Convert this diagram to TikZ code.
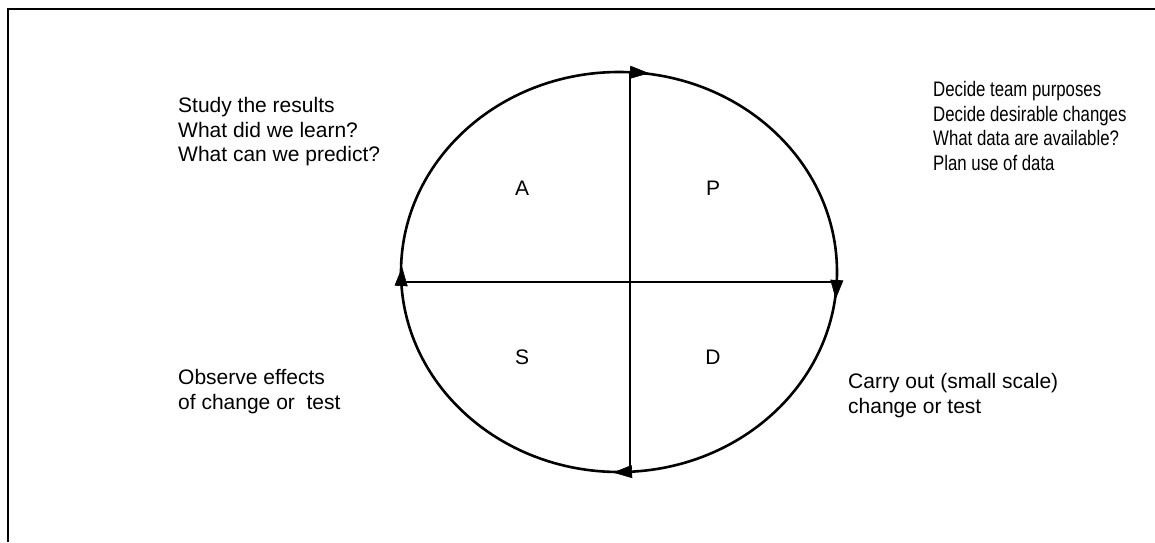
\documentclass[tikz,border=0pt]{standalone}
\usepackage{fontspec}
\setmainfont{Liberation Sans}
\usetikzlibrary{arrows.meta}

\begin{document}
\begin{tikzpicture}[x=1pt,y=1pt,
  txt/.style={anchor=north west,inner sep=0pt,align=left,font=\fontsize{21}{24.7}\selectfont},
  quad/.style={inner sep=0pt,font=\fontsize{21}{25}\selectfont},
  cyc/.style={line width=2.6pt},
  tip/.style={-{Triangle[length=19pt,width=13pt]},line width=0.6pt}]
\useasboundingbox (0,0) rectangle (1155,542);
\draw[line width=2.5pt] (8,0) -- (8,533) -- (1155,533);

\coordinate (top) at (630,469.7);
\coordinate (bottom) at (630,70.3);
\coordinate (left) at (401.3,260);
\coordinate (right) at (836.7,260);

\draw[cyc] (619,270) ellipse (218 and 200);
\draw[cyc] (top) -- (bottom);
\draw[cyc] (left) -- (right);

% clockwise arrows
\draw[tip] (top) -- ++(19,-0.9);
\draw[tip] (right) -- ++(-1,-17);
\draw[tip] (bottom) -- ++(-17,-0.8);
\draw[tip] (left) -- ++(0.8,15);

\node[quad] (act) at (522,354) {A};
\node[quad] (plan) at (713,354) {P};
\node[quad] (study) at (522,185) {S};
\node[quad] (do) at (713,185) {D};

\node[txt] (studytxt) at (178,445) {Study the results\\What did we learn?\\What can we predict?};
\node[txt,transform shape,xscale=0.8] (plantxt) at (933,461) {Decide team purposes\\Decide desirable changes\\What data are available?\\Plan use of data};
\node[txt] (observetxt) at (178,173) {Observe effects\\of change or\ \ test};
\node[txt] (carrytxt) at (848,169) {Carry out (small scale)\\change or test};
\end{tikzpicture}
\end{document}
